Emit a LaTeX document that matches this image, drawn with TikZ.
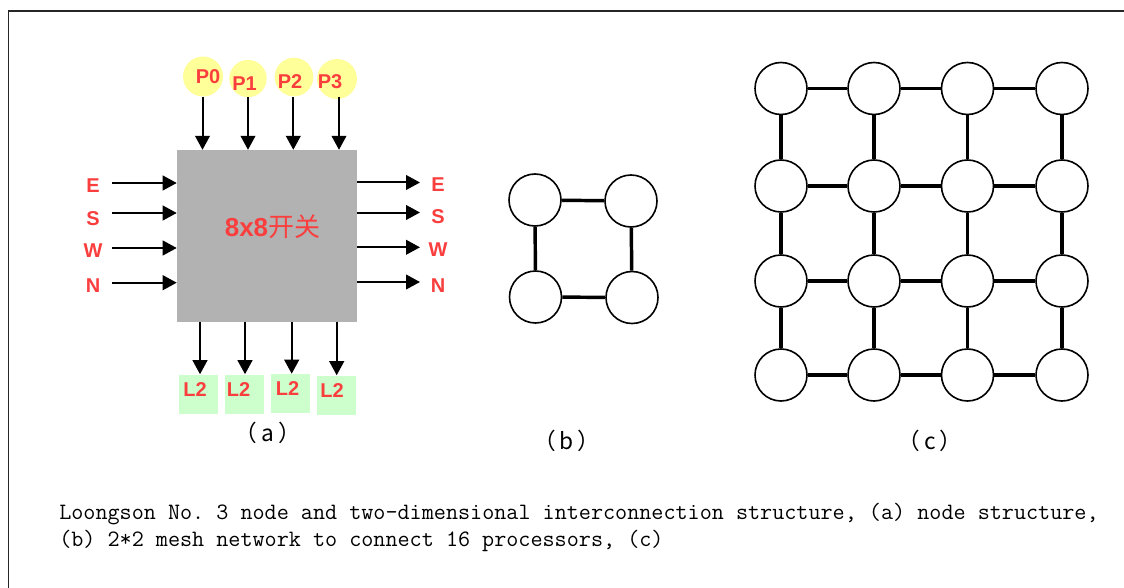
\documentclass[tikz,border=0pt]{standalone}
\usepackage{fontspec}
\usetikzlibrary{arrows.meta}
\newfontfamily\labelfont{Liberation Sans}
\newfontfamily\cjk{Noto Sans CJK SC}
\definecolor{portred}{RGB}{250,62,62}
\definecolor{portyellow}{RGB}{255,255,153}
\definecolor{cachegreen}{RGB}{204,255,204}
\definecolor{switchgray}{RGB}{178,178,178}
\begin{document}
\frenchspacing
\begin{tikzpicture}[x=0.75pt,y=-0.75pt,
  redlab/.style={text=portred, inner sep=0,
    font=\labelfont\bfseries\fontsize{15}{18}\selectfont},
  port/.style={circle, fill=portyellow, inner sep=0},
  arr/.style={line width=1.5pt, -{Triangle[length=10.5pt,width=11pt]}},
  l2box/.style={rectangle, fill=cachegreen, minimum size=29.25pt, inner sep=0},
  pe/.style={circle, draw, line width=1.2pt, minimum size=39pt, inner sep=0, fill=white},
  link/.style={line width=2.6pt},
  sublab/.style={inner sep=0, font=\fontsize{17}{20}\selectfont},
  caption/.style={inner sep=0, anchor=base west,
    font=\ttfamily\fontsize{17.6}{21}\selectfont}]
\useasboundingbox (0,0) rectangle (1124,588);

% frame
\draw[line width=1.1pt, draw=black!85] (8.5,588) -- (8.5,11) -- (1124,11);

% ---------- (a) node structure ----------
\node[rectangle, fill=switchgray, minimum width=135pt, minimum height=128.6pt,
      inner sep=0] (sw) at (267,235.8) {};
\node[inner sep=0, text=portred, font=\fontsize{19.5}{22}\selectfont]
  (swname) at (272.5,227) {{\labelfont\bfseries 8x8}\cjk{开关}};

% processor ports
\node[port, minimum size=30pt] (p0) at (203,76.5) {};
\node[port, minimum size=28pt] (p1) at (248,78.5) {};
\node[port, minimum size=29pt] (p2) at (294,77) {};
\node[port, minimum size=30pt] (p3) at (337,79) {};
\node[redlab] (p0t) at (208,76.7) {P0};
\node[redlab] (p1t) at (244.5,83.3) {P1};
\node[redlab] (p2t) at (290,81.7) {P2};
\node[redlab] (p3t) at (330,82) {P3};
\foreach \p/\x in {p0/202.5,p1/248,p2/293.3,p3/339}{
  \coordinate (\p a) at (\x,97);
  \draw[arr] (\p a) -- (\p a |- sw.north);
}

% west-side inputs
\foreach \d/\y/\ly in {E/183/186,S/213/219,W/248/250.5,N/282.7/285.5}{
  \node[redlab] (in\d) at (93,\ly) {\d};
  \coordinate (in\d s) at (112,\y);
  \draw[arr] (in\d s) -- (in\d s -| sw.west);
}
% east-side outputs
\foreach \d/\y/\ly in {E/182.5/185,S/212.5/217,W/247.3/250,N/282/286}{
  \node[redlab] (out\d) at (438,\ly) {\d};
  \coordinate (out\d e) at (420,\y);
  \draw[arr] (out\d e -| sw.east) -- (out\d e);
}

% L2 caches
\node[l2box] (c1) at (198.2,394) {};
\node[l2box] (c2) at (244.8,394) {};
\node[l2box] (c3) at (290,393.5) {};
\node[l2box] (c4) at (336.5,395) {};
\node[redlab] (c1t) at (195,390) {L2};
\node[redlab] (c2t) at (238.5,389.5) {L2};
\node[redlab] (c3t) at (287.5,389) {L2};
\node[redlab] (c4t) at (332,391) {L2};
\foreach \c/\x in {c1/200,c2/245,c3/291.7,c4/336.7}{
  \coordinate (\c a) at (\x,321);
  \draw[arr] (\c a |- sw.south) -- (\c a |- \c.north);
}
\node[sublab] (suba) at (268,433) {\cjk{（}\hspace{3pt}a\hspace{3pt}\cjk{）}};

% ---------- (b) 2x2 mesh ----------
\node[pe] (b11) at (535,200) {};
\node[pe] (b12) at (631,201) {};
\node[pe] (b21) at (535.5,297) {};
\node[pe] (b22) at (632,297.5) {};
\draw[link] (b11) -- (b12);
\draw[link] (b21) -- (b22);
\draw[link] (b11) -- (b21);
\draw[link] (b12) -- (b22);
\node[sublab] (subb) at (567,441) {\cjk{（}\hspace{3pt}b\hspace{3pt}\cjk{）}};

% ---------- (c) 4x4 mesh ----------
\foreach \r/\y in {1/88.5,2/186,3/281,4/375}{
  \foreach \c/\x in {1/781,2/874,3/967.5,4/1062}{
    \node[pe] (m\r\c) at (\x,\y) {};
  }
}
\foreach \r in {1,...,4}{
  \foreach \c/\n in {1/2,2/3,3/4}{
    \draw[link] (m\r\c) -- (m\r\n);
  }
}
\foreach \r/\n in {1/2,2/3,3/4}{
  \foreach \c in {1,...,4}{
    \draw[link] (m\r\c) -- (m\n\c);
  }
}
\node[sublab] (subc) at (930,441) {\cjk{（}\hspace{3pt}c\hspace{3pt}\cjk{）}};

% ---------- caption ----------
\node[caption] (cap1) at (59,519)
  {Loongson No. 3 node and two-dimensional interconnection structure, (a) node structure,};
\node[caption] (cap2) at (59,546)
  {(b) 2*2 mesh network to connect 16 processors, (c)};
\end{tikzpicture}
\end{document}
